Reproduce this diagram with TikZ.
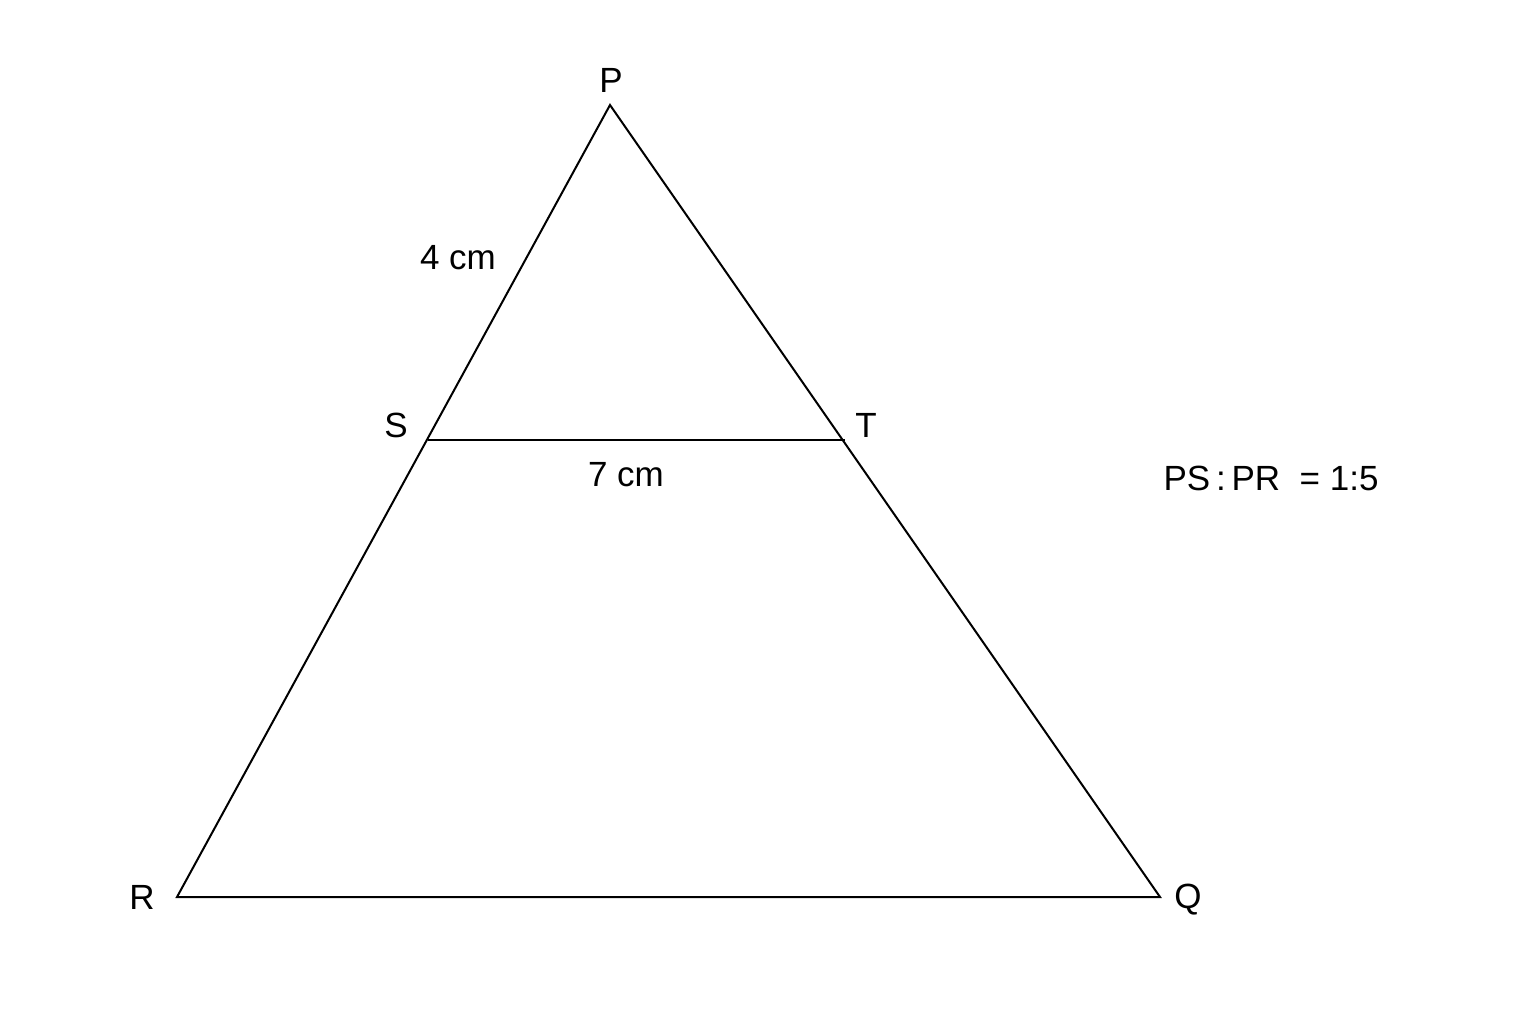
\documentclass[tikz,border=0pt]{standalone}
\usepackage{fontspec}
\setmainfont{Liberation Sans}
\begin{document}
\begin{tikzpicture}[x=1pt,y=-1pt,
  edge/.style={line width=2pt,line join=miter},
  lbl/.style={font=\fontsize{35}{40}\selectfont,inner sep=0pt,anchor=center}]
\useasboundingbox[fill=white] (0,0) rectangle (1536,1024);
\coordinate (P) at (610,105);
\coordinate (S) at (428,440);
\coordinate (T) at (845,440);
\coordinate (R) at (177,897);
\coordinate (Q) at (1160,897);
\draw[edge] (P) -- (R) -- (Q) -- cycle;
\draw[edge] (S) -- (T);
\node[lbl] (lP) at (611,80) {P};
\node[lbl] (lS) at (396,425) {S};
\node[lbl] (lT) at (866,425) {T};
\node[lbl] (lR) at (142,897) {R};
\node[lbl] (lQ) at (1188,900) {Q};
\node[lbl] (l4) at (458,258) {4 cm};
\node[lbl] (l7) at (626,475) {7 cm};
\node[lbl] (ratio) at (1271,478) {PS\,:\,PR\ \ = 1:5};
\end{tikzpicture}
\end{document}
